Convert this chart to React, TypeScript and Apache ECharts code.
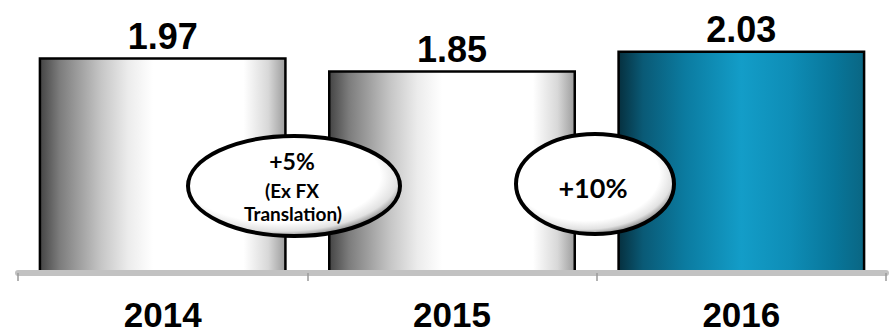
import React, { useEffect, useRef } from "react";
import * as echarts from "echarts";

const years = ["2014", "2015", "2016"];
const values = [1.97, 1.85, 2.03];
const highlightYear = "2016";
const bubble1Lines = ["+5%", "(Ex FX", "Translation)"];
const bubble2Lines = ["+10%"];

const grayGradient = () =>
  new echarts.graphic.LinearGradient(0, 0, 1, 0, [
    { offset: 0, color: "#444444" },
    { offset: 0.08, color: "#7c7c7c" },
    { offset: 0.25, color: "#c6c6c6" },
    { offset: 0.36, color: "#ececec" },
    { offset: 0.46, color: "#ffffff" },
    { offset: 0.83, color: "#ffffff" },
    { offset: 0.93, color: "#d8d8d8" },
    { offset: 1, color: "#9c9c9c" },
  ]);

const blueGradient = () =>
  new echarts.graphic.LinearGradient(0, 0, 1, 0, [
    { offset: 0, color: "#06303f" },
    { offset: 0.1, color: "#0a5a76" },
    { offset: 0.27, color: "#0b7ba0" },
    { offset: 0.5, color: "#139dc8" },
    { offset: 0.7, color: "#0e8db6" },
    { offset: 0.88, color: "#08769a" },
    { offset: 1, color: "#0a6683" },
  ]);

const bubbleFill = () =>
  new echarts.graphic.RadialGradient(0.44, 0.4, 0.6, [
    { offset: 0, color: "#ffffff" },
    { offset: 0.78, color: "#ffffff" },
    { offset: 0.92, color: "#e2e2e2" },
    { offset: 1, color: "#9a9a9a" },
  ]);

export default function App() {
  const ref = useRef<HTMLDivElement>(null);

  useEffect(() => {
    if (!ref.current) return;
    const chart = echarts.init(ref.current, null, { renderer: "svg" });

    const textStyleBase = {
      fill: "#000",
      fontWeight: "bold",
      fontFamily: "Lato, 'Open Sans', sans-serif",
      align: "center",
      verticalAlign: "middle",
    };

    chart.setOption({
      animation: false,
      backgroundColor: "#ffffff",
      grid: { left: 18, right: 4, top: 32, bottom: 61 },
      xAxis: {
        type: "category",
        data: years,
        offset: 3,
        z: 3,
        axisLine: { show: true, lineStyle: { color: "#c2c2c2", width: 6 } },
        axisTick: { show: true, length: 8, lineStyle: { color: "#9a9a9a", width: 1.5 } },
        axisLabel: {
          color: "#000",
          fontSize: 35,
          lineHeight: 28,
          fontWeight: "bold",
          fontFamily: "'Liberation Sans', Arial, sans-serif",
          margin: 24,
        },
      },
      yAxis: {
        type: "value",
        min: 0,
        max: 2.2,
        show: false,
        splitLine: { show: false },
      },
      series: [
        {
          type: "bar",
          barWidth: 248,
          data: values.map((v, i) => ({
            value: v,
            itemStyle: {
              color: years[i] === highlightYear ? blueGradient() : grayGradient(),
              borderColor: "#000",
              borderWidth: 2.5,
            },
          })),
          label: {
            show: true,
            position: "top",
            distance: 3,
            color: "#000",
            fontSize: 36,
            fontWeight: "bold",
            fontFamily: "'Liberation Sans', Arial, sans-serif",
            formatter: (p: any) => p.value.toFixed(2),
          },
        },
      ],
      graphic: [
        {
          type: "ellipse",
          z: 100,
          shape: { cx: 294, cy: 186, rx: 106, ry: 50 },
          style: { fill: bubbleFill(), stroke: "#000", lineWidth: 4 },
        },
        {
          type: "text",
          z: 101,
          x: 292,
          y: 161,
          style: { ...textStyleBase, text: bubble1Lines[0], fontSize: 23 },
        },
        {
          type: "text",
          z: 101,
          x: 292,
          y: 190,
          style: { ...textStyleBase, text: bubble1Lines[1], fontSize: 19 },
        },
        {
          type: "text",
          z: 101,
          x: 293,
          y: 213,
          style: { ...textStyleBase, text: bubble1Lines[2], fontSize: 19 },
        },
        {
          type: "ellipse",
          z: 100,
          shape: { cx: 595, cy: 184, rx: 79, ry: 50 },
          style: { fill: bubbleFill(), stroke: "#000", lineWidth: 4 },
        },
        {
          type: "text",
          z: 101,
          x: 593,
          y: 187,
          style: { ...textStyleBase, text: bubble2Lines[0], fontSize: 27 },
        },
      ],
    });

    return () => chart.dispose();
  }, []);

  return (
    <div
      ref={ref}
      style={{ position: "fixed", left: 0, top: 0, width: 890, height: 334 }}
    />
  );
}
